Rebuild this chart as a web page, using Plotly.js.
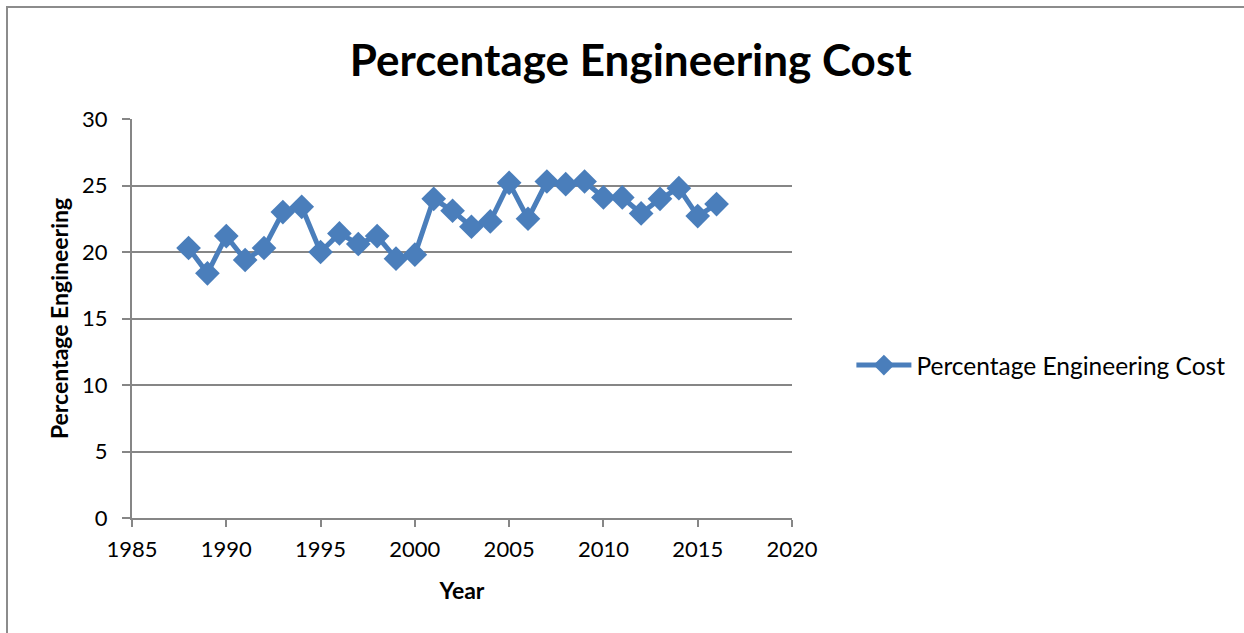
<!DOCTYPE html>
<html>
<head>
<meta charset="utf-8">
<script src="https://cdn.plot.ly/plotly-3.0.1.min.js"></script>
<style>
html,body{margin:0;padding:0;background:#fff;overflow:hidden;}
#chart{width:1244px;height:633px;position:absolute;left:0;top:0;}
#frame{position:absolute;left:6px;top:6px;width:1300px;height:700px;border:2px solid #8c8c8c;pointer-events:none;}
</style>
</head>
<body>
<div id="chart"></div>
<div id="frame"></div>
<script>
const years = [1988,1989,1990,1991,1992,1993,1994,1995,1996,1997,1998,1999,2000,2001,2002,2003,2004,2005,2006,2007,2008,2009,2010,2011,2012,2013,2014,2015,2016];
const pctEngineering = [20.3,18.4,21.2,19.4,20.3,23.0,23.4,20.0,21.4,20.6,21.2,19.5,19.8,24.0,23.1,21.9,22.3,25.2,22.5,25.3,25.1,25.3,24.1,24.1,22.9,24.0,24.8,22.7,23.6];
const seriesName = 'Percentage Engineering Cost';
const xTicks = [1985,1990,1995,2000,2005,2010,2015,2020];
const yTicks = [0,5,10,15,20,25,30];

const font = 'Lato, "Open Sans", sans-serif';
const trace = {
  x: years, y: pctEngineering, name: seriesName,
  type: 'scatter', mode: 'lines+markers',
  line: {color: '#4a7ebb', width: 5},
  marker: {symbol: 'diamond', size: 19, color: '#4a7ebb'}
};
const layout = {
  width: 1244, height: 633,
  margin: {l: 132, r: 452, t: 119, b: 115},
  paper_bgcolor: '#fff', plot_bgcolor: '#fff',
  font: {family: font, color: '#000'},
  showlegend: true,
  title: {text: '<b>Percentage Engineering Cost</b>', font: {size: 44, family: font, color: '#000'}, x: 0.507, xanchor: 'center', y: 0.905, yanchor: 'middle'},
  xaxis: {
    range: [1985, 2020], tickvals: xTicks, ticktext: xTicks.map(String),
    showgrid: false, zeroline: false, showline: true, linecolor: '#868686', linewidth: 2,
    ticks: 'outside', ticklen: 7, tickwidth: 2, tickcolor: '#868686',
    tickfont: {size: 22, family: font}, ticklabelstandoff: 4,
    title: {text: '<b>Year</b>', font: {size: 23, family: font}, standoff: 21}
  },
  yaxis: {
    range: [0, 30], tickvals: yTicks, ticktext: yTicks.map(String),
    showgrid: true, gridcolor: '#868686', gridwidth: 2, zeroline: false,
    showline: true, linecolor: '#868686', linewidth: 2,
    ticks: 'outside', ticklen: 8, tickwidth: 2, tickcolor: '#868686',
    tickfont: {size: 22, family: font}, ticklabelstandoff: 10,
    title: {text: '<b>Percentage Engineering</b>', font: {size: 23, family: font}, standoff: 7}
  },
  legend: {x: 1.09, xanchor: 'left', y: 0.383, yanchor: 'middle', font: {size: 24.5, family: font}, itemwidth: 55, bgcolor: 'rgba(0,0,0,0)'}
};
Plotly.newPlot('chart', [trace], layout, {displayModeBar: false, staticPlot: true});
</script>
</body>
</html>
